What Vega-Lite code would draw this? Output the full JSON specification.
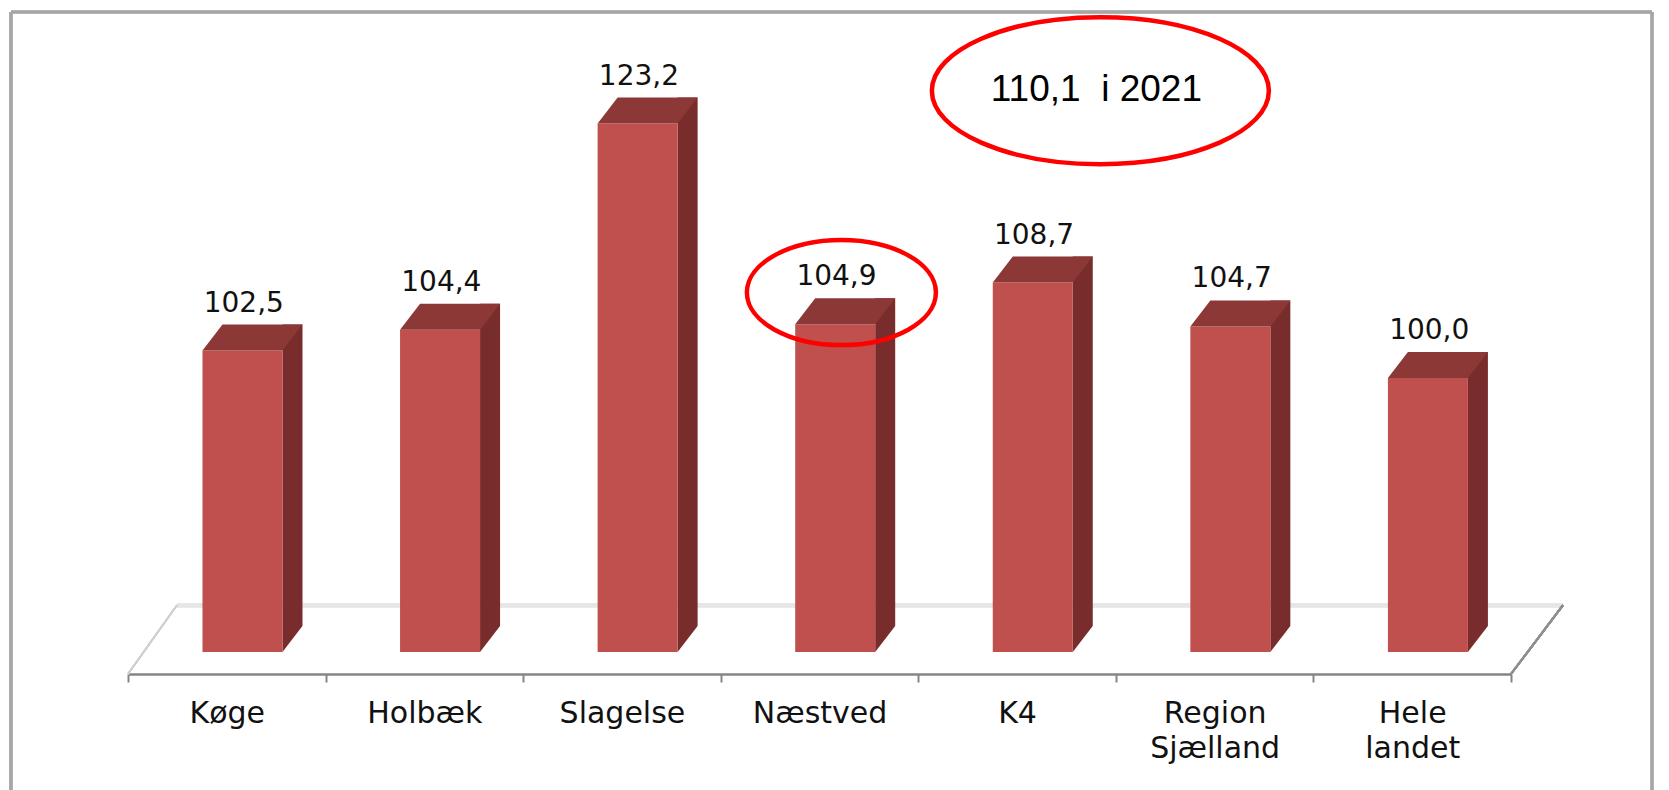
{
  "$schema": "https://vega.github.io/schema/vega-lite/v6.json",
  "width": 1383,
  "height": 625,
  "autosize": {"type": "none"},
  "padding": {"left": 128, "top": 49, "right": 158, "bottom": 116},
  "background": "white",
  "config": {
    "view": {"stroke": null},
    "font": "DejaVu Sans",
    "locale": {"number": {"decimal": ",", "thousands": ".", "grouping": [3], "currency": ["", " kr."]}},
    "axisX": {
      "labelAngle": 0, "grid": false,
      "domainColor": "#858585", "domainWidth": 2.5,
      "tickColor": "#858585", "tickWidth": 2, "tickSize": 8, "tickBand": "extent",
      "labelFont": "DejaVu Sans", "labelFontSize": 30, "labelColor": "#111111",
      "labelPadding": 16, "labelBaseline": "top", "labelLineHeight": 35,
      "labelExpr": "split(datum.label, ' ')", "labelLimit": 0, "labelOverlap": false
    }
  },
  "data": {"values": [
    {"cat": "Køge", "value": 102.5},
    {"cat": "Holbæk", "value": 104.4},
    {"cat": "Slagelse", "value": 123.2},
    {"cat": "Næstved", "value": 104.9},
    {"cat": "K4", "value": 108.7},
    {"cat": "Region Sjælland", "value": 104.7},
    {"cat": "Hele landet", "value": 100.0}
  ]},
  "layer": [
    {
      "mark": {"type": "rule", "color": "#a6a6a6", "strokeWidth": 2.5, "xOffset": -215.8, "yOffset": -37, "y2Offset": 150},
      "encoding": {
        "x": {"datum": "Køge", "type": "nominal", "title": null, "scale": {"type": "band", "domain": ["Køge", "Holbæk", "Slagelse", "Næstved", "K4", "Region Sjælland", "Hele landet"], "paddingInner": 0, "paddingOuter": 0}},
        "y": {"datum": 130, "type": "quantitative", "scale": {"domain": [73, 130], "zero": false, "nice": false}, "axis": null},
        "y2": {"datum": 73}
      }
    },
    {
      "mark": {"type": "rule", "color": "#a6a6a6", "strokeWidth": 2.5, "xOffset": 239.8, "yOffset": -37, "y2Offset": 150},
      "encoding": {
        "x": {"datum": "Hele landet", "type": "nominal", "title": null},
        "y": {"datum": 130, "type": "quantitative", "axis": null},
        "y2": {"datum": 73}
      }
    },
    {
      "mark": {"type": "rule", "color": "#a6a6a6", "strokeWidth": 2.5, "xOffset": -215.8, "x2Offset": 239.8, "yOffset": -37},
      "encoding": {
        "x": {"datum": "Køge", "type": "nominal", "title": null},
        "x2": {"datum": "Hele landet"},
        "y": {"datum": 130, "type": "quantitative", "axis": null}
      }
    },
    {
      "mark": {"type": "rule", "color": "#e6e6e6", "strokeWidth": 4, "xOffset": -49.8, "x2Offset": 150.8},
      "encoding": {
        "x": {"datum": "Køge", "type": "nominal", "title": null},
        "x2": {"datum": "Hele landet"},
        "y": {"datum": 79.28, "type": "quantitative", "axis": null}
      }
    },
    {
      "mark": {"type": "rule", "color": "#cfcfcf", "strokeWidth": 1.5, "xOffset": -98.8, "x2Offset": -49.8},
      "encoding": {
        "x": {"datum": "Køge", "type": "nominal", "title": null},
        "x2": {"datum": "Køge"},
        "y": {"datum": 73, "type": "quantitative", "axis": null},
        "y2": {"datum": 79.28}
      }
    },
    {
      "mark": {"type": "rule", "color": "#8f8f8f", "strokeWidth": 2, "xOffset": 98.8, "x2Offset": 150.8},
      "encoding": {
        "x": {"datum": "Hele landet", "type": "nominal", "title": null},
        "x2": {"datum": "Hele landet"},
        "y": {"datum": 73, "type": "quantitative", "axis": null},
        "y2": {"datum": 79.28}
      }
    },
    {
      "mark": {"type": "bar", "width": 20, "xOffset": 65.7, "yOffset": -26, "color": "#782D2C"},
      "encoding": {
        "x": {"field": "cat", "type": "nominal", "title": null},
        "y": {"field": "value", "type": "quantitative", "axis": null},
        "y2": {"datum": 75}
      }
    },
    {
      "mark": {"type": "point", "shape": "M 0 0 L 0.769 -1 L 0.85 -1.03 L 0.85 0.08 L -0.02 0.08 Z", "size": 2704, "filled": true, "fill": "white", "opacity": 1, "strokeWidth": 0, "xOffset": 55.7},
      "encoding": {
        "x": {"field": "cat", "type": "nominal", "title": null},
        "y": {"datum": 75, "type": "quantitative", "axis": null}
      }
    },
    {
      "mark": {"type": "bar", "width": 80, "xOffset": 15.7, "color": "#C0504D"},
      "encoding": {
        "x": {"field": "cat", "type": "nominal", "title": null},
        "y": {"field": "value", "type": "quantitative", "axis": null},
        "y2": {"datum": 75}
      }
    },
    {
      "mark": {"type": "point", "shape": "M -1 0 L 1 0 L 1.5 -0.65 L -0.5 -0.65 Z", "size": 6400, "filled": true, "fill": "#8C3837", "opacity": 1, "strokeWidth": 0, "xOffset": 15.7},
      "encoding": {
        "x": {"field": "cat", "type": "nominal", "title": null},
        "y": {"field": "value", "type": "quantitative", "axis": null}
      }
    },
    {
      "mark": {"type": "text", "xOffset": 17, "dy": -39, "baseline": "alphabetic", "align": "center", "fontSize": 28, "font": "DejaVu Sans", "color": "#111111"},
      "encoding": {
        "x": {"field": "cat", "type": "nominal", "title": null},
        "y": {"field": "value", "type": "quantitative", "axis": null},
        "text": {"field": "value", "type": "quantitative", "format": ".1f"}
      }
    },
    {
      "transform": [{"filter": "datum.cat === 'Næstved'"}],
      "mark": {"type": "point", "shape": "M -1 0 C -1 -0.3071 -0.5523 -0.556 0 -0.556 C 0.5523 -0.556 1 -0.3071 1 0 C 1 0.3071 0.5523 0.556 0 0.556 C -0.5523 0.556 -1 0.3071 -1 0 Z", "size": 35721, "filled": false, "stroke": "#FF0000", "strokeWidth": 4.5, "opacity": 1, "xOffset": 21.9, "yOffset": -31.7},
      "encoding": {
        "x": {"field": "cat", "type": "nominal", "title": null},
        "y": {"field": "value", "type": "quantitative", "axis": null}
      }
    },
    {
      "data": {"values": [{"note": "110,1\u00a0 i 2021"}]},
      "mark": {"type": "point", "shape": "M -1 0 C -1 -0.2408 -0.5523 -0.436 0 -0.436 C 0.5523 -0.436 1 -0.2408 1 0 C 1 0.2408 0.5523 0.436 0 0.436 C -0.5523 0.436 -1 0.2408 -1 0 Z", "size": 113569, "filled": false, "stroke": "#FF0000", "strokeWidth": 4.5, "opacity": 1, "xOffset": 83.3},
      "encoding": {
        "x": {"datum": "K4", "type": "nominal", "title": null},
        "y": {"datum": 126.2, "type": "quantitative", "axis": null}
      }
    },
    {
      "data": {"values": [{"note": "110,1\u00a0 i 2021"}]},
      "mark": {"type": "text", "xOffset": 79.3, "dy": 10, "baseline": "alphabetic", "align": "center", "fontSize": 37, "font": "Liberation Sans", "color": "#000000"},
      "encoding": {
        "x": {"datum": "K4", "type": "nominal", "title": null},
        "y": {"datum": 126.2, "type": "quantitative", "axis": null},
        "text": {"field": "note", "type": "nominal"}
      }
    }
  ]
}
